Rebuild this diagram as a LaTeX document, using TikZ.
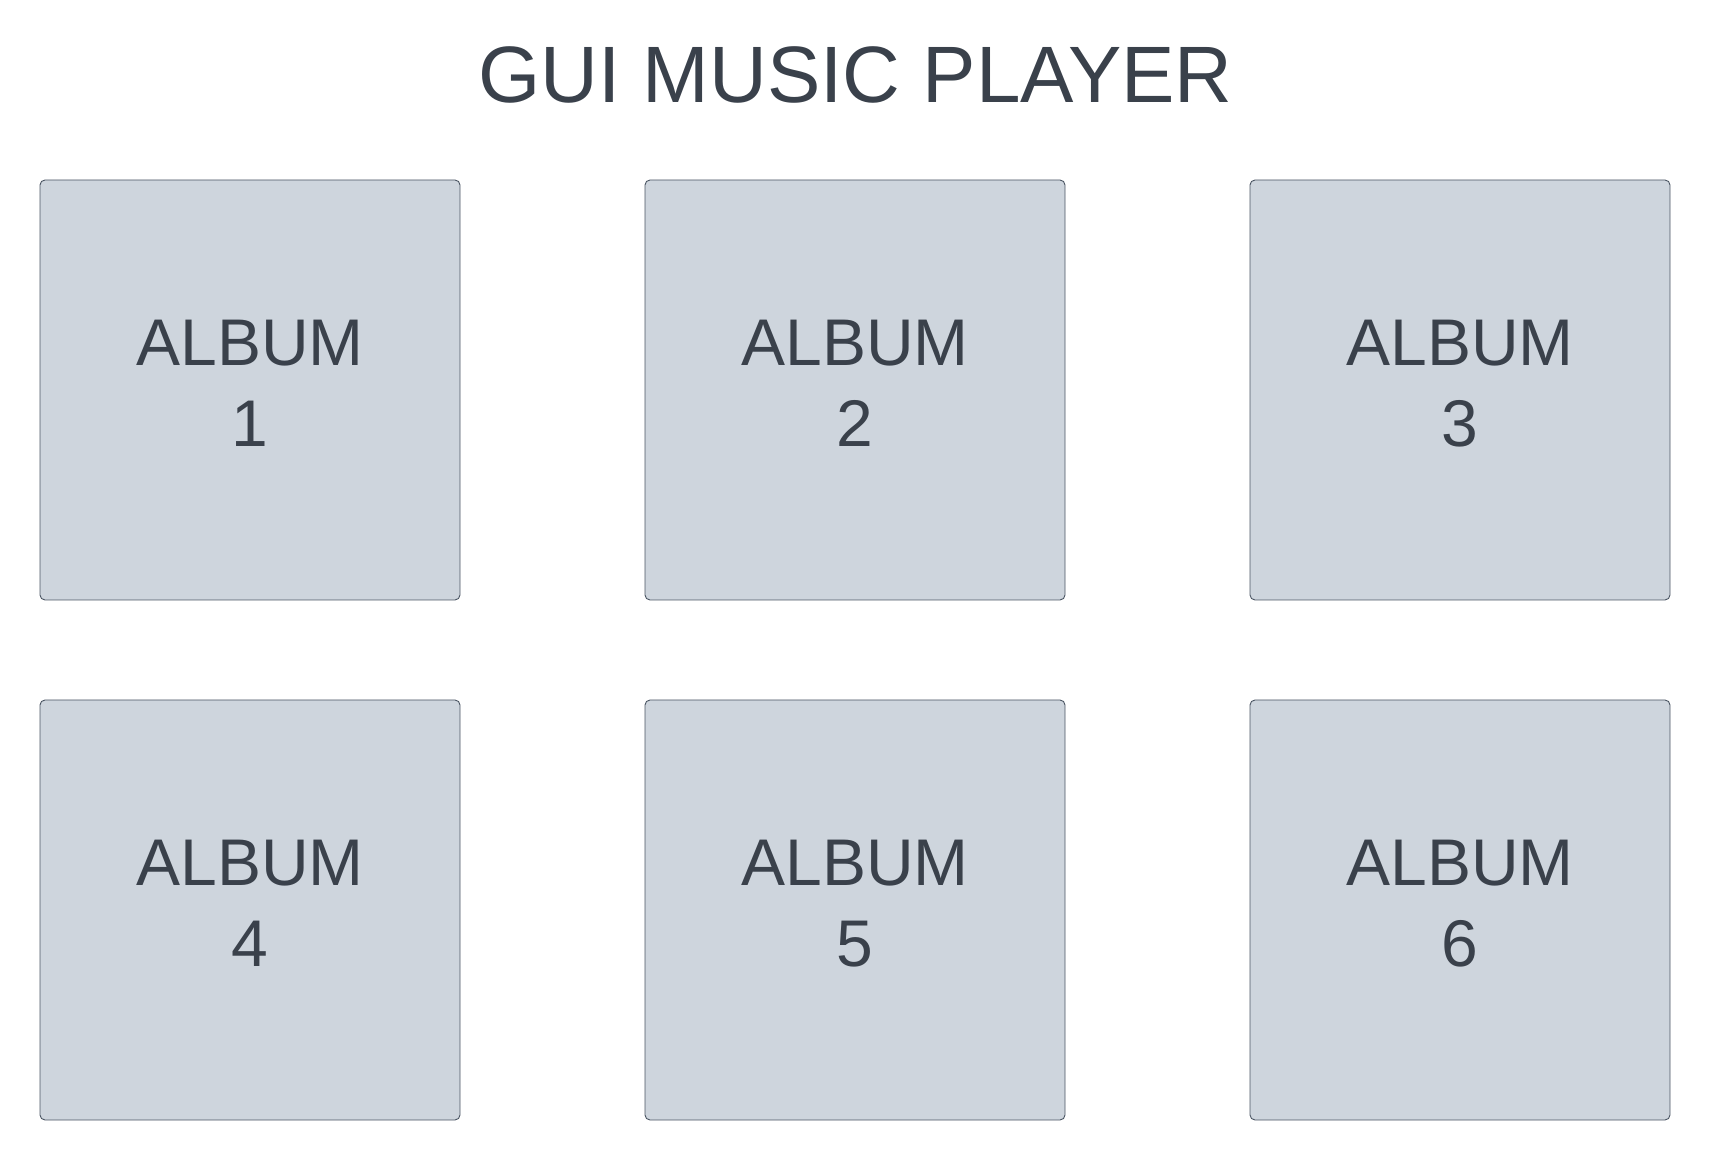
\documentclass[tikz,border=0pt]{standalone}
\usepackage{fontspec}
\setmainfont{Liberation Sans}
\definecolor{boxfill}{HTML}{CED5DD}
\definecolor{boxline}{HTML}{4B5563}
\definecolor{inktext}{HTML}{3A414B}
\begin{document}
\begin{tikzpicture}[x=1pt,y=1pt,
  albumbox/.style={draw=boxline, line width=0.9pt, fill=boxfill, rounded corners=5pt,
    minimum width=420pt, minimum height=420pt, inner sep=0pt},
  albumtext/.style={text=inktext, align=center, inner sep=0pt,
    font=\fontsize{66}{81}\selectfont},
  titletext/.style={text=inktext, inner sep=0pt, anchor=base,
    font=\fontsize{80}{92}\selectfont}]
\useasboundingbox (0,0) rectangle (1711,1160);
\node[titletext] (title) at (855.5,1057) {GUI MUSIC PLAYER};
\node[albumbox] (a1) at (250,770) {};
\node[albumbox] (a2) at (855,770) {};
\node[albumbox] (a3) at (1460,770) {};
\node[albumbox] (a4) at (250,250) {};
\node[albumbox] (a5) at (855,250) {};
\node[albumbox] (a6) at (1460,250) {};
\node[albumtext] (t1) at ([yshift=6.5pt]a1.center) {ALBUM\\1};
\node[albumtext] (t2) at ([yshift=6.5pt]a2.center) {ALBUM\\2};
\node[albumtext] (t3) at ([yshift=6.5pt]a3.center) {ALBUM\\3};
\node[albumtext] (t4) at ([yshift=6.5pt]a4.center) {ALBUM\\4};
\node[albumtext] (t5) at ([yshift=6.5pt]a5.center) {ALBUM\\5};
\node[albumtext] (t6) at ([yshift=6.5pt]a6.center) {ALBUM\\6};
\end{tikzpicture}
\end{document}
